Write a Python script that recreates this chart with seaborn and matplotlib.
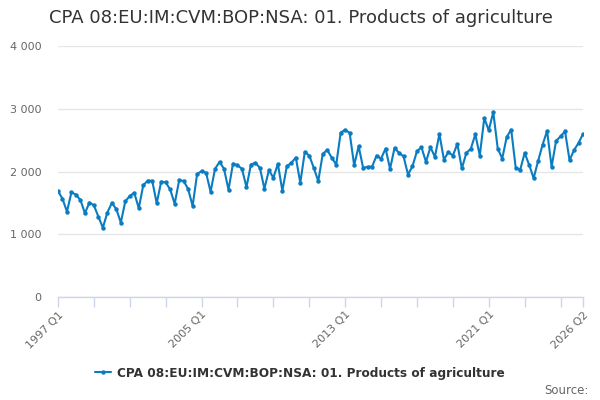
import matplotlib
matplotlib.use("Agg")
import matplotlib.pyplot as plt
from matplotlib.ticker import FuncFormatter, FixedLocator
from matplotlib.lines import Line2D
import seaborn as sns
import pandas as pd

title = "CPA 08:EU:IM:CVM:BOP:NSA: 01. Products of agriculture"
series_name = "CPA 08:EU:IM:CVM:BOP:NSA: 01. Products of agriculture"

years = list(range(1997, 2027))
quarters = [f"{y} Q{q}" for y in years for q in (1, 2, 3, 4)][:118]

values = [
    1690, 1565, 1360, 1670,
    1630, 1545, 1335, 1505,
    1460, 1280, 1105, 1345,
    1500, 1400, 1185, 1525,
    1610, 1660, 1415, 1780,
    1855, 1850, 1495, 1840,
    1825, 1715, 1485, 1860,
    1850, 1720, 1450, 1960,
    2005, 1980, 1677, 2042,
    2153, 2042, 1709, 2127,
    2100, 2042, 1751, 2111,
    2138, 2058, 1725, 2021,
    1900, 2122, 1693, 2084,
    2138, 2222, 1820, 2312,
    2254, 2058, 1846, 2280,
    2344, 2220, 2110, 2620,
    2665, 2614, 2100, 2402,
    2058, 2074, 2079, 2254,
    2206, 2365, 2042, 2376,
    2296, 2243, 1952, 2084,
    2323, 2387, 2153, 2387,
    2233, 2598, 2190, 2307,
    2254, 2439, 2048, 2296,
    2362, 2592, 2254, 2852,
    2656, 2947, 2365, 2206,
    2550, 2667, 2063, 2026,
    2296, 2106, 1894, 2169,
    2429, 2646, 2074, 2487,
    2561, 2640, 2180, 2339,
    2455, 2598,
]

tick_labels = ["1997 Q1", "2005 Q1", "2013 Q1", "2021 Q1", "2026 Q2"]
y_ticks = [0, 1000, 2000, 3000, 4000]

df = pd.DataFrame({"quarter": quarters, "value": values})
df["pos"] = range(len(df))

line_color = "#0a7cc1"
sns.set_theme(style="white")
plt.rcParams["font.family"] = ["DejaVu Sans"]

fig = plt.figure(figsize=(6, 4), dpi=100)
ax = fig.add_axes([58 / 600, 1 - 297 / 400, (583 - 58) / 600, (297 - 46) / 400])

sns.lineplot(data=df, x="pos", y="value", ax=ax, color=line_color,
             linewidth=1.5, marker="o", markersize=3.2, markeredgewidth=0,
             legend=False)

ax.set_xlim(0, len(df) - 1)
ax.set_ylim(0, 4000)
ax.set_xlabel("")
ax.set_ylabel("")

for s in ["top", "right", "left"]:
    ax.spines[s].set_visible(False)
ax.spines["bottom"].set_color("#ccd6eb")
ax.spines["bottom"].set_linewidth(1)

ax.yaxis.set_major_locator(FixedLocator(y_ticks))
ax.yaxis.set_major_formatter(FuncFormatter(lambda v, p: f"{int(v):,}".replace(",", " ")))
ax.grid(axis="y", color="#e6e6e6", linewidth=1)
ax.tick_params(axis="y", length=0, pad=12, labelsize=8, labelcolor="#666666")
for lbl in ax.get_yticklabels():
    lbl.set_horizontalalignment("right")

label_pos = [quarters.index(t) for t in tick_labels]
ax.xaxis.set_major_locator(FixedLocator(label_pos))
ax.set_xticklabels(tick_labels)
ax.xaxis.set_minor_locator(FixedLocator(list(range(0, len(df), 8))))
ax.tick_params(axis="x", which="both", length=7, width=1, color="#ccd6eb",
               direction="out", bottom=True)
ax.tick_params(axis="x", which="major", labelsize=8, labelcolor="#666666", pad=2)
for lbl in ax.get_xticklabels():
    lbl.set_rotation(45)
    lbl.set_horizontalalignment("right")
    lbl.set_rotation_mode("anchor")

fig.text(49 / 600, 1 - 18 / 400, title, fontsize=13, color="#333333",
         ha="left", va="center")

handle = Line2D([0], [0], color=line_color, linewidth=1.5, marker="o",
                markersize=3.2, markeredgewidth=0)
leg = fig.legend([handle], [series_name], loc="center",
                 bbox_to_anchor=(300 / 600, 1 - 373 / 400), frameon=False,
                 prop={"weight": "bold", "size": 8.7}, handlelength=1.3,
                 handletextpad=0.5)
for t in leg.get_texts():
    t.set_color("#333333")

fig.text(589 / 600, 1 - 390 / 400, "Source:", fontsize=8.5, color="#666666",
         ha="right", va="center")

fig.savefig("out.png", dpi=100)
